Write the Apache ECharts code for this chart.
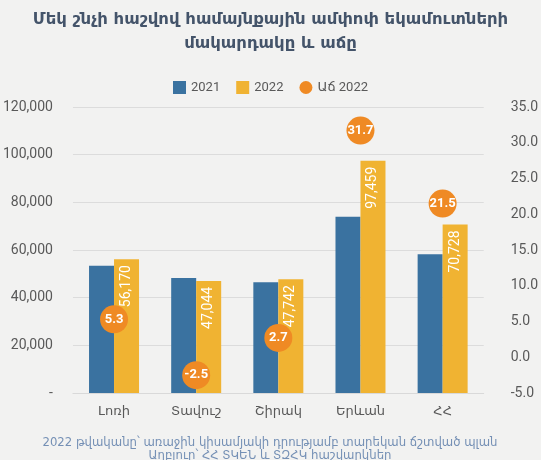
<!DOCTYPE html>
<html>
<head>
<meta charset="utf-8">
<script src="https://cdn.jsdelivr.net/npm/echarts@6/dist/echarts.min.js"></script>
<style>
  html, body { margin: 0; padding: 0; background: #f2f2f1; }
  #main { width: 541px; height: 460px; }
</style>
</head>
<body>
<div id="main"></div>
<script>
var regions = ['Լոռի', 'Տավուշ', 'Շիրակ', 'Երևան', 'ՀՀ'];
var val2021 = [53343, 48250, 46487, 74001, 58212];
var val2022 = [56170, 47044, 47742, 97459, 70728];
var growth2022 = [5.3, -2.5, 2.7, 31.7, 21.5];

var FONT = 'Roboto, "DejaVu Sans"';
var gray = '#595959';

var myChart = echarts.init(document.getElementById('main'));
myChart.setOption({
    backgroundColor: '#f2f2f1',
    textStyle: { fontFamily: FONT },
    title: [
        {
            text: 'Մեկ շնչի հաշվով համայնքային ամփոփ եկամուտների\nմակարդակը և աճը',
            left: 'center',
            top: 3,
            textStyle: { fontFamily: '"DejaVu Sans"', fontSize: 16.5, fontWeight: 'bold', color: '#44546a', lineHeight: 24 }
        }
    ],
    graphic: [
        {
            type: 'text',
            x: 270,
            y: 436,
            style: {
                text: '2022 թվականը՝ առաջին կիսամյակի դրությամբ տարեկան ճշտված պլան\nԱղբյուր՝ ՀՀ ՏԿԵՆ և ՏԶՀԿ հաշվարկներ',
                fontFamily: '"DejaVu Sans"',
                fontSize: 11.7,
                lineHeight: 13,
                fill: '#7590b5',
                align: 'center',
                verticalAlign: 'top'
            }
        }
    ],
    legend: {
        top: 76,
        left: 'center',
        itemWidth: 13,
        itemHeight: 13,
        itemGap: 16,
        textStyle: { fontFamily: FONT, fontSize: 13, color: gray },
        data: [
            { name: '2021', icon: 'rect' },
            { name: '2022', icon: 'rect' },
            { name: 'Աճ 2022', icon: 'circle' }
        ]
    },
    grid: { left: 72, right: 57, top: 107, bottom: 67 },
    xAxis: {
        type: 'category',
        data: regions,
        axisLine: { show: true, lineStyle: { color: '#d9d9d9' } },
        axisTick: { show: false },
        axisLabel: { fontFamily: '"DejaVu Sans"', fontSize: 13, color: gray, margin: 12 }
    },
    yAxis: [
        {
            type: 'value',
            min: 0,
            max: 120000,
            interval: 20000,
            axisLine: { show: false },
            axisTick: { show: false },
            splitLine: { lineStyle: { color: '#dcdcdc' } },
            axisLabel: {
                fontFamily: FONT, fontSize: 14, color: gray, margin: 20,
                formatter: function (v) { return v === 0 ? '-' : v.toLocaleString('en-US'); }
            }
        },
        {
            type: 'value',
            min: -5,
            max: 35,
            interval: 5,
            axisLine: { show: false },
            axisTick: { show: false },
            splitLine: { show: false },
            axisLabel: {
                fontFamily: FONT, fontSize: 14, color: gray, margin: 27,
                formatter: function (v) { return v.toFixed(1); }
            }
        }
    ],
    series: [
        {
            name: '2021',
            type: 'bar',
            data: val2021,
            barWidth: 25,
            barGap: '0%',
            itemStyle: { color: '#3a72a0' }
        },
        {
            name: '2022',
            type: 'bar',
            data: val2022,
            barWidth: 25,
            itemStyle: { color: '#f0b332' },
            label: {
                show: true,
                position: 'insideTop',
                rotate: 90,
                align: 'right',
                verticalAlign: 'middle',
                distance: 6,
                color: '#ffffff',
                fontFamily: FONT,
                fontSize: 14,
                formatter: function (p) { return p.value.toLocaleString('en-US'); }
            }
        },
        {
            name: 'Աճ 2022',
            type: 'scatter',
            yAxisIndex: 1,
            data: growth2022,
            symbol: 'circle',
            symbolSize: 28,
            itemStyle: { color: '#ef8a24', opacity: 1 },
            label: {
                show: true,
                position: 'inside',
                color: '#ffffff',
                fontFamily: FONT,
                fontSize: 13,
                fontWeight: 'bold',
                formatter: function (p) { return p.value.toFixed(1); }
            },
            z: 5
        }
    ]
});
</script>
</body>
</html>
